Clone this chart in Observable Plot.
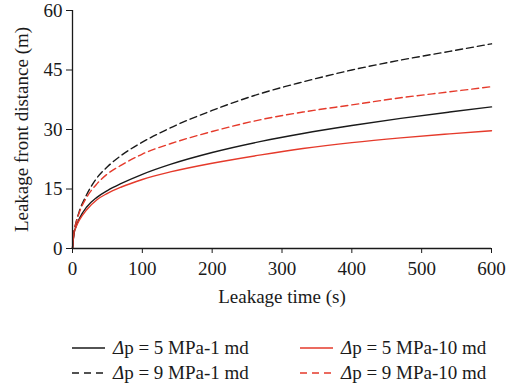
<!DOCTYPE html>
<html>
<head>
<meta charset="utf-8">
<script src="https://cdn.jsdelivr.net/npm/d3@7"></script>
<script src="https://cdn.jsdelivr.net/npm/@observablehq/plot@0.6"></script>
<style>
  html, body { margin: 0; padding: 0; background: #fff; }
  body { width: 519px; height: 389px; overflow: hidden; font-family: "Liberation Serif", "DejaVu Serif", serif; }
  svg, svg text { font-family: "Liberation Serif", "DejaVu Serif", serif !important; }
  #legend { position: relative; height: 79px; font-size: 19px; color: #1a1a1a; }
  .item { position: absolute; display: flex; align-items: center; white-space: nowrap; }
  .item svg { margin-right: 8px; }
</style>
</head>
<body>
<div id="chart"></div>
<div id="legend"></div>
<script>
const times = [0, 2, 5, 10, 20, 35, 50, 70, 100, 140, 200, 270, 330, 400, 470, 540, 600];
const dp5k1  = [0, 3.6, 5.5, 7.6, 10.4, 12.9, 14.6, 16.4, 18.7, 21.2, 24.2, 27.0, 29.0, 31.0, 32.8, 34.4, 35.7];
const dp5k10 = [0, 3.6, 5.4, 7.2, 9.7, 12.3, 13.9, 15.5, 17.4, 19.3, 21.5, 23.6, 25.2, 26.7, 27.9, 28.9, 29.7];
const dp9k1  = [0, 4.0, 6.5, 9.5, 13.5, 17.8, 20.6, 23.5, 26.8, 30.4, 34.8, 39.1, 42.0, 45.0, 47.5, 49.7, 51.6];
const dp9k10 = [0, 4.0, 6.4, 9.2, 12.8, 16.3, 18.8, 21.0, 23.8, 26.4, 29.5, 32.5, 34.4, 36.2, 38.0, 39.5, 40.8];
const xTicks = [0, 100, 200, 300, 400, 500, 600];
const yTicks = [0, 15, 30, 45, 60];

const BLACK = "#1a1a1a", RED = "#e53a2b";
const series = [
  {name: "Δp = 5 MPa-1 md",  values: dp5k1,  color: BLACK, dash: null},
  {name: "Δp = 5 MPa-10 md", values: dp5k10, color: RED,   dash: null},
  {name: "Δp = 9 MPa-1 md",  values: dp9k1,  color: BLACK, dash: "7,4"},
  {name: "Δp = 9 MPa-10 md", values: dp9k10, color: RED,   dash: "7,4"}
];

const lineMarks = series.map(s => Plot.line(
  times.map((t, i) => ({t, v: s.values[i]})),
  {x: "t", y: "v", stroke: s.color, strokeWidth: 1.4, strokeDasharray: s.dash, curve: "monotone-x"}
));

const chart = Plot.plot({
  width: 519,
  height: 310,
  marginLeft: 72,
  marginRight: 28,
  marginTop: 10,
  marginBottom: 62,
  style: {fontFamily: "'Liberation Serif', 'DejaVu Serif', serif", fontSize: "19px", color: "#1a1a1a", background: "#fff"},
  x: {domain: [0, 600]},
  y: {domain: [0, 60]},
  marks: [
    ...lineMarks,
    Plot.axisX({ticks: xTicks, tickSize: 5, tickPadding: 8, label: "Leakage time (s)", labelAnchor: "center", labelArrow: "none", labelOffset: 54, fontSize: 19}),
    Plot.axisY({ticks: yTicks, tickSize: 6, tickPadding: 4, label: "Leakage front distance (m)", labelAnchor: "center", labelArrow: "none", labelOffset: 58, fontSize: 19}),
    Plot.ruleX([0], {stroke: BLACK, strokeWidth: 1.3}),
    Plot.ruleY([0], {stroke: BLACK, strokeWidth: 1.3})
  ]
});
document.getElementById("chart").appendChild(chart);

const legend = document.getElementById("legend");
const pos = [[72, 38], [300, 38], [72, 63], [300, 63]];
series.forEach((s, j) => {
  const div = document.createElement("div");
  div.className = "item";
  div.style.left = pos[j][0] + "px";
  div.style.top = (pos[j][1] - 12) + "px";
  div.innerHTML = `<svg width="33" height="24"><line x1="0" x2="33" y1="12" y2="12" stroke="${s.color}" stroke-width="1.4" ${s.dash ? 'stroke-dasharray="7,5"' : ''}/></svg><span><i>Δ</i>${s.name.slice(1)}</span>`;
  legend.appendChild(div);
});
</script>
</body>
</html>
